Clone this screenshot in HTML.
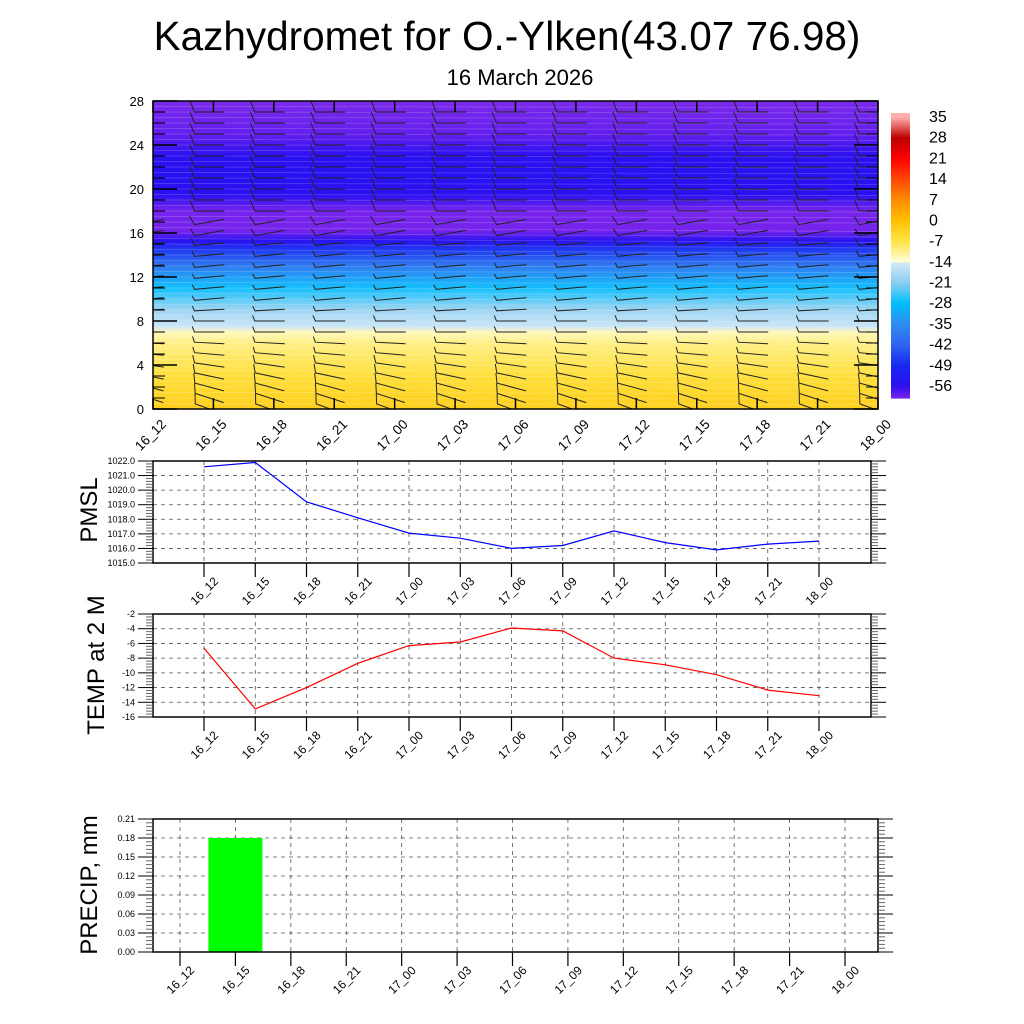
<!DOCTYPE html>
<html><head><meta charset="utf-8"><style>
html,body{margin:0;padding:0;background:#fff}
svg{display:block}
text{font-family:"Liberation Sans",sans-serif;fill:#000}
</style></head><body>
<svg id="chart" width="1024" height="1024" viewBox="0 0 1024 1024" xmlns="http://www.w3.org/2000/svg">
<defs>
<clipPath id="topclip"><rect x="153" y="101" width="725" height="308"/></clipPath>
<linearGradient id="fieldgrad" x1="0" y1="1" x2="0" y2="0"></linearGradient>
</defs>
<text x="507" y="50" font-size="40.5" text-anchor="middle">Kazhydromet for O.-Ylken(43.07 76.98)</text>
<text x="520" y="85" font-size="22" text-anchor="middle">16 March 2026</text>
<g id="top"></g>
<g id="cbar"></g>
<g id="pmsl"></g>
<g id="temp"></g>
<g id="precip"></g>
</svg>
<script>
const categories = ["16_12","16_15","16_18","16_21","17_00","17_03","17_06","17_09","17_12","17_15","17_18","17_21","18_00"];
const pmslValues = [1021.6,1021.9,1019.2,1018.1,1017.05,1016.7,1016.0,1016.2,1017.2,1016.4,1015.9,1016.3,1016.5];
const pmslTicks = ["1015.0","1016.0","1017.0","1018.0","1019.0","1020.0","1021.0","1022.0"];
const tempValues = [-6.65,-14.9,-12.0,-8.7,-6.3,-5.8,-3.9,-4.3,-8.0,-8.9,-10.25,-12.35,-13.1];
const tempTicks = [-16,-14,-12,-10,-8,-6,-4,-2];
const precipValues = [0,0.18,0,0,0,0,0,0,0,0,0,0,0];
const precipTicks = ["0.00","0.03","0.06","0.09","0.12","0.15","0.18","0.21"];
const heightLevels = [0,3,6,7,7.5,9,11,13,14.5,15.3,16.2,18,19.5,21,23,25,28];
const heightTemps = [-3,-6,-10,-12.5,-15,-19,-27,-38,-47,-55,-60,-60,-55.5,-55,-55.5,-59,-61];
const heightTicks = [0,4,8,12,16,20,24,28];
const cbarLabels = [35,28,21,14,7,0,-7,-14,-21,-28,-35,-42,-49,-56];
const windLevels = [0,1,2,3,4,5,6,7,8,9,10,11,12,13,14,15,16,17,18,19,20,21,22,23,24,25,26,27,28];
const windAngle = [-20,-18,-15,-12,-8,-5,-3,0,0,3,5,5,5,5,5,5,10,10,0,0,0,0,0,0,0,0,0,0,0];
const windFeather = [10,10,10,9,8,6,6,6,6,5,5,5,5,5,6,8,8,10,12,12,12,12,12,12,12,12,12,12,12];

const NS="http://www.w3.org/2000/svg";
function mk(parent,tag,attrs,txt){const e=document.createElementNS(NS,tag);for(const k in attrs)e.setAttribute(k,attrs[k]);if(txt!==undefined)e.textContent=txt;parent.appendChild(e);return e;}

const cmapT=[-62,-60,-56,-49,-42,-35,-28,-21,-14.01,-14,-13,-7,0,7,14,21,28,35];
const cmapC=[[128,48,232],[118,36,236],[44,14,240],[24,40,240],[48,100,240],[48,140,240],[0,190,255],[140,205,240],[212,234,248],[255,252,210],[255,250,200],[255,228,70],[255,192,0],[255,140,0],[255,70,0],[255,0,0],[190,0,0],[255,176,176]];
function tcol(t){if(t<=cmapT[0])return rgb(cmapC[0]);for(let i=1;i<cmapT.length;i++){if(t<=cmapT[i]){const f=(t-cmapT[i-1])/(cmapT[i]-cmapT[i-1]);const a=cmapC[i-1],b=cmapC[i];return rgb([a[0]+(b[0]-a[0])*f,a[1]+(b[1]-a[1])*f,a[2]+(b[2]-a[2])*f]);}}return rgb(cmapC[cmapC.length-1]);}
function rgb(c){return "rgb("+c.map(v=>Math.round(v)).join(",")+")";}

(function(){
const g=document.getElementById('top');
const L=153,R=878,T=101,B=409;
const xs=i=>L+(R-L)*i/(categories.length-1);
const ys=h=>B-(B-T)*h/28;
const grad=document.getElementById('fieldgrad');
heightLevels.forEach((h,i)=>{mk(grad,'stop',{offset:(h/28).toFixed(4),'stop-color':tcol(heightTemps[i])});});
const f=mk(g,'rect',{x:L,y:T,width:R-L,height:B-T,fill:'url(#fieldgrad)'});


const cl=mk(g,'g',{'clip-path':'url(#topclip)',stroke:'#ffffff','stroke-opacity':'0.22','stroke-width':'0.7',fill:'none'});


for(let h=0.5;h<28;h+=0.5){const y=ys(h);mk(cl,'path',{d:`M${L} ${y} L${R} ${y+ (h>14&&h<17?4:1)}`});}
const bg=mk(g,'g',{'clip-path':'url(#topclip)',stroke:'#222','stroke-width':'1',fill:'none'});


categories.forEach((c,ci)=>{windLevels.forEach((h,li)=>{
  const x=xs(ci),y=ys(h);const a=windAngle[li]*Math.PI/180;
  const x0=x-19,x1=x+11;
  const cx=x-4;
  const p0=[cx+(x0-cx)*Math.cos(a),y-(x0-cx)*Math.sin(a)];
  const p1=[cx+(x1-cx)*Math.cos(a),y-(x1-cx)*Math.sin(a)];
  const fl=windFeather[li];const fa=a+Math.PI*0.62;
  const p2=[p0[0]+fl*Math.cos(fa),p0[1]-fl*Math.sin(fa)];
  const b=mk(bg,'path',{d:`M${p2[0].toFixed(1)} ${p2[1].toFixed(1)}L${p0[0].toFixed(1)} ${p0[1].toFixed(1)}L${p1[0].toFixed(1)} ${p1[1].toFixed(1)}`});
  
  
});});
const fr=mk(g,'rect',{x:L,y:T,width:R-L,height:B-T,fill:'none',stroke:'#000','stroke-width':'1.5'});


for(let h=0;h<=28;h++){const y=ys(h);const len=h%4===0?24:12;mk(g,'line',{x1:L,y1:y,x2:L+len,y2:y,stroke:'#000','stroke-width':h%4===0?1.5:1});mk(g,'line',{x1:R,y1:y,x2:R-len,y2:y,stroke:'#000','stroke-width':h%4===0?1.5:1});}
heightTicks.forEach(h=>{const t=mk(g,'text',{x:144,y:ys(h)+5,'font-size':13,'text-anchor':'end'},String(h));});
categories.forEach((c,i)=>{const x=xs(i);mk(g,'line',{x1:x,y1:B,x2:x,y2:B-11,stroke:'#000','stroke-width':1.5});mk(g,'line',{x1:x,y1:T,x2:x,y2:T+11,stroke:'#000','stroke-width':1.5});
 const t=mk(g,'text',{x:0,y:0,'font-size':13.5,'text-anchor':'end',transform:`translate(${x+14},${B+16}) rotate(-45)`},c);});
})();

(function(){
const g=document.getElementById('cbar');
const x=891,w=19,T=113,B=398;
const y0=116,dy=(385-116)/13;
const n=120;
for(let i=0;i<n;i++){const y=T+(B-T)*i/n;const v=35-(y-y0)/dy*7;mk(g,'rect',{x:x,y:y.toFixed(2),width:w,height:((B-T)/n+0.6).toFixed(2),fill:tcol(v)});}
cbarLabels.forEach((v,i)=>{const t=mk(g,'text',{x:929,y:y0+dy*i+6,'font-size':16},String(v));});
})();

function panel(id,opt){
const g=document.getElementById(id);
const {L,R,T,B,x0,x1,vmin,vmax,ticks,minorStep,title,titleX,titleY,lblY,fs}=opt;
const xs=i=>x0+(x1-x0)*i/(categories.length-1);
const ys=v=>B-(B-T)*(v-vmin)/(vmax-vmin);
const gg=mk(g,'g',{stroke:'#555','stroke-width':'0.8','stroke-dasharray':'4,4'});


categories.forEach((c,i)=>mk(gg,'line',{x1:xs(i),y1:T,x2:xs(i),y2:B}));
ticks.forEach(v=>{const y=ys(+v);if(y>T+1&&y<B-1)mk(gg,'line',{x1:L,y1:y,x2:R,y2:y});});
if(opt.draw)opt.draw(g,xs,ys);
const fr=mk(g,'rect',{x:L,y:T,width:R-L,height:B-T,fill:'none',stroke:'#000','stroke-width':'1.5'});


for(let v=vmin;v<=vmax+1e-9;v+=minorStep){const y=ys(v);const major=ticks.some(t=>Math.abs(+t-v)<1e-6);const len=major?15:7;
 mk(g,'line',{x1:L,y1:y,x2:L-len,y2:y,stroke:major?'#000':'#666','stroke-width':1});
 mk(g,'line',{x1:R,y1:y,x2:R+len,y2:y,stroke:major?'#000':'#666','stroke-width':1});}
ticks.forEach(v=>{const t=mk(g,'text',{x:135,y:ys(+v)+3,'font-size':9,'text-anchor':'end'},String(v));});
categories.forEach((c,i)=>{const x=xs(i);mk(g,'line',{x1:x,y1:B,x2:x,y2:B+14,stroke:'#000','stroke-width':1.2});
 const t=mk(g,'text',{x:0,y:0,'font-size':fs,'text-anchor':'end',transform:`translate(${x+15},${lblY}) rotate(-45)`},c);});
const tt=mk(g,'text',{x:0,y:0,'font-size':24,'text-anchor':'middle',transform:`translate(${titleX},${titleY}) rotate(-90)`},title);


}

panel('pmsl',{L:153,R:871,T:461,B:563,x0:204,x1:819,vmin:1015,vmax:1022,ticks:pmslTicks,minorStep:0.2,title:'PMSL',titleX:97,titleY:510,lblY:582,fs:12,
 draw:(g,xs,ys)=>{const p=mk(g,'polyline',{points:pmslValues.map((v,i)=>xs(i).toFixed(1)+','+ys(v).toFixed(1)).join(' '),fill:'none',stroke:'#0000ff','stroke-width':1.2});}});
panel('temp',{L:153,R:871,T:614,B:717,x0:204,x1:819,vmin:-16,vmax:-2,ticks:tempTicks,minorStep:0.4,title:'TEMP at 2 M',titleX:104,titleY:665,lblY:736,fs:12,
 draw:(g,xs,ys)=>{const p=mk(g,'polyline',{points:tempValues.map((v,i)=>xs(i).toFixed(1)+','+ys(v).toFixed(1)).join(' '),fill:'none',stroke:'#ff0000','stroke-width':1.2});}});
panel('precip',{L:153,R:878,T:819,B:952,x0:180,x1:845,vmin:0,vmax:0.21,ticks:precipTicks,minorStep:0.006,title:'PRECIP, mm',titleX:97,titleY:885,lblY:971,fs:12,
 draw:(g,xs,ys)=>{const bw=54;precipValues.forEach((v,i)=>{if(v<=0)return;const r=mk(g,'rect',{x:(xs(i)-bw/2).toFixed(1),y:ys(v).toFixed(1),width:bw,height:(ys(0)-ys(v)).toFixed(1),fill:'#00ff00'});});}});
</script>
</body></html>
